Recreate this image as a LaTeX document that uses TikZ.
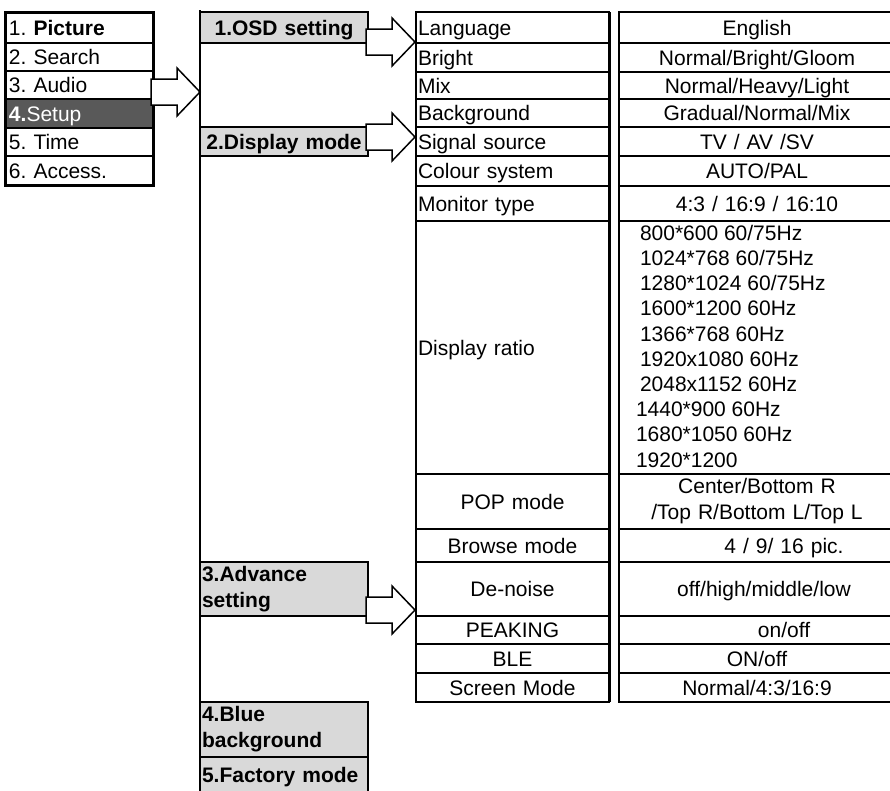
\documentclass[tikz,border=0pt]{standalone}
\usepackage{fontspec}
\setmainfont{Liberation Sans}
\usetikzlibrary{positioning}
\definecolor{boxgray}{HTML}{D9D9D9}
\definecolor{selgray}{HTML}{595959}
\newcommand{\menufont}{\fontsize{21}{26}\selectfont}
% big hollow arrow, given by its tip
\newcommand{\fatarrow}[1]{%
  \draw[fatline] (#1) -- ++(-23,-24) -- ++(0,11) -- ++(-26,0) -- ++(0,26)
    -- ++(26,0) -- ++(0,11) -- cycle;}

\begin{document}
\frenchspacing
\begin{tikzpicture}[x=1pt, y=-1pt, font=\menufont,
    every node/.style={outer sep=0pt, inner ysep=1pt},
    cell/.style={draw, line width=1.8pt, inner xsep=2pt, text height=15pt, text depth=0pt},
    twolines/.style={text height={}, text depth={}},
    menurow/.style={cell, minimum width=148pt, text width=140pt, inner xsep=4pt, align=left},
    subbox/.style={cell, fill=boxgray, minimum width=168pt, text width=164pt, anchor=north west, font=\menufont\bfseries},
    itemL/.style={cell, minimum width=193pt, text width=189pt, align=left},
    itemC/.style={cell, minimum width=193pt, text width=189pt, align=center},
    val/.style={cell, minimum width=276pt, text width=272pt, align=center},
    fatline/.style={draw, fill=white, line width=1.5pt, line join=miter}]

  \useasboundingbox (0,0) rectangle (890,790);
  \clip (0,0) rectangle (890,790);

  % main menu
  \node[menurow, minimum height=31pt, anchor=north west] (picture) at (5,12) {1. \textbf{Picture}};
  \node[menurow, minimum height=28pt, below=0pt of picture] (search) {2. Search};
  \node[menurow, minimum height=28pt, below=0pt of search] (audio) {3. Audio};
  \node[menurow, minimum height=29pt, below=0pt of audio, fill=selgray, text=white] (setup) {\textbf{4.}Setup};
  \node[menurow, minimum height=28pt, below=0pt of setup] (time) {5. Time};
  \node[menurow, minimum height=29pt, below=0pt of time] (access) {6. Access.};
  \draw[line width=3pt] (picture.north west) rectangle (access.south east);

  % items and values
  \node[itemL, minimum height=31pt, anchor=north west] (lang) at (416,12) {Language};
  \node[val, minimum height=31pt, right=10pt of lang] (langval) {English};
  \node[itemL, minimum height=29pt, below=0pt of lang] (bright) {Bright};
  \node[val, minimum height=29pt, right=10pt of bright] (brightval) {Normal/Bright/Gloom};
  \node[itemL, minimum height=27pt, below=0pt of bright] (mix) {Mix};
  \node[val, minimum height=27pt, right=10pt of mix] (mixval) {Normal/Heavy/Light};
  \node[itemL, minimum height=28pt, below=0pt of mix] (backgr) {Background};
  \node[val, minimum height=28pt, right=10pt of backgr] (backgrval) {Gradual/Normal/Mix};
  \node[itemL, minimum height=29pt, below=0pt of backgr] (signal) {Signal source};
  \node[val, minimum height=29pt, right=10pt of signal] (signalval) {TV / AV /SV};
  \node[itemL, minimum height=30pt, below=0pt of signal] (colour) {Colour system};
  \node[val, minimum height=30pt, right=10pt of colour] (colourval) {AUTO/PAL};
  \node[itemL, minimum height=35pt, below=0pt of colour] (monitor) {Monitor type};
  \node[val, minimum height=35pt, right=10pt of monitor] (monitorval) {4:3 / 16:9 / 16:10};
  \node[itemL, minimum height=253pt, below=0pt of monitor] (ratio) {Display ratio};
  \node[val, minimum height=253pt, right=10pt of ratio] (ratioval) {};
  \node[itemC, minimum height=55pt, below=0pt of ratio] (pop) {POP mode};
  \node[val, twolines, minimum height=55pt, right=10pt of pop] (popval) {Center/Bottom R\\/Top R/Bottom L/Top L};
  \node[itemC, minimum height=33pt, below=0pt of pop] (browse) {Browse mode};
  \node[val, minimum height=33pt, right=10pt of browse] (browseval) {\hspace*{54pt}4 / 9/ 16 pic.};
  \node[itemC, minimum height=54pt, below=0pt of browse] (denoise) {De-noise};
  \node[val, minimum height=54pt, right=10pt of denoise] (denoiseval) {\hspace*{14pt}off/high/middle/low};
  \node[itemC, minimum height=28pt, below=0pt of denoise] (peaking) {PEAKING};
  \node[val, minimum height=28pt, right=10pt of peaking] (peakingval) {\hspace*{54pt}on/off};
  \node[itemC, minimum height=29pt, below=0pt of peaking] (ble) {BLE};
  \node[val, minimum height=29pt, right=10pt of ble] (bleval) {ON/off};
  \node[itemC, minimum height=29pt, below=0pt of ble] (screen) {Screen Mode};
  \node[val, minimum height=29pt, right=10pt of screen] (screenval) {Normal/4:3/16:9};
  \draw[line width=3pt] (lang.north east) -- (screen.south east);

  % resolutions
  \foreach \t [count=\i] in {{800*600 60/75Hz}, {1024*768 60/75Hz}, {1280*1024 60/75Hz},
      {1600*1200 60Hz}, {1366*768 60Hz}, {1920x1080 60Hz}, {2048x1152 60Hz},
      {1440*900 60Hz}, {1680*1050 60Hz}, {1920*1200}} {
    \node[anchor=west, inner sep=0pt] (res\i) at ({640-4*(\i>7)}, {233+25.2*(\i-1)}) {\t};
  }

  % setup submenu
  \coordinate (subtop) at (200,10);
  \coordinate (subbot) at (200,800);
  \draw[line width=1.8pt] (subtop) -- (subbot);
  \node[subbox, align=center, minimum height=31pt] (osd) at (subtop |- lang.north) {1.OSD setting};
  \node[subbox, align=center, minimum height=29pt] (disp) at (subtop |- signal.north) {2.Display mode};
  \node[subbox, twolines, align=left, minimum height=54pt] (adv) at (subtop |- denoise.north) {3.Advance\\setting};
  \node[subbox, twolines, align=left, minimum height=55pt] (blue) at (subtop |- screen.south) {4.Blue\\background};
  \node[subbox, align=left, minimum height=36pt, below=0pt of blue] (factory) {5.Factory mode};

  % arrows
  \coordinate (tipmenu) at (200,92);
  \coordinate (tiposd) at (415,42);
  \coordinate (tipdisp) at (415,137);
  \coordinate (tipadv) at (415,610);
  \fatarrow{tipmenu}
  \fatarrow{tiposd}
  \fatarrow{tipdisp}
  \fatarrow{tipadv}
\end{tikzpicture}
\end{document}
